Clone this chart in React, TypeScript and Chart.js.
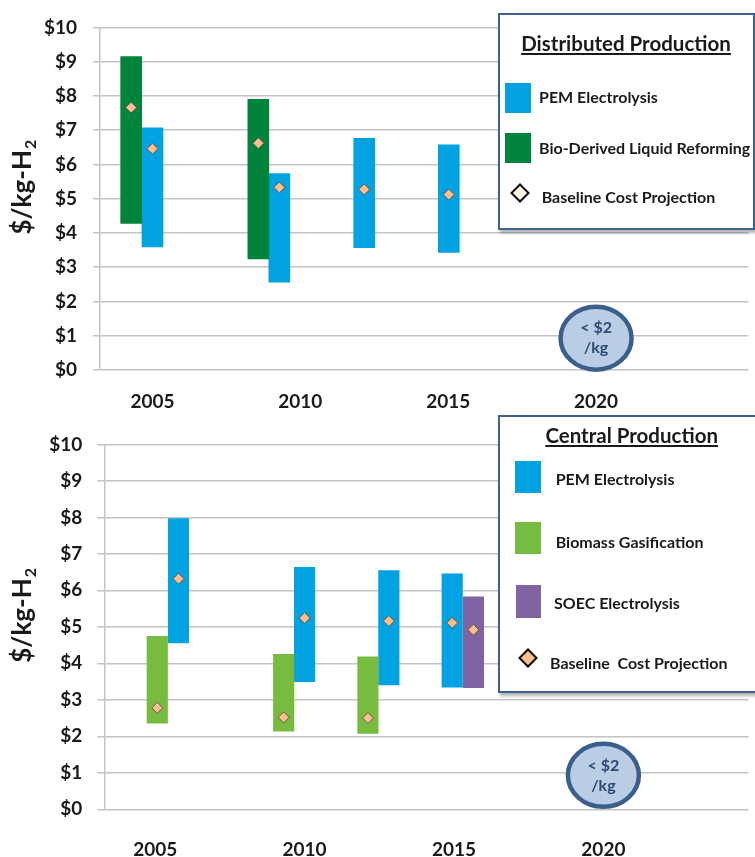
import React, { useEffect, useRef } from "react";
import { Chart, registerables } from "chart.js";

Chart.register(...registerables);

// ---------- data ----------
const yTickValues = [0, 1, 2, 3, 4, 5, 6, 7, 8, 9, 10];
const xTickYears = [2005, 2010, 2015, 2020];

// Distributed production
const distPemX = [2005.0, 2009.29, 2012.16, 2015.02];
const distPemLow = [3.59, 2.56, 3.57, 3.43];
const distPemHigh = [7.07, 5.73, 6.76, 6.57];
const distPemBase = [6.46, 5.33, 5.27, 5.12];

const distBioX = [2004.28, 2008.58];
const distBioLow = [4.28, 3.24];
const distBioHigh = [9.15, 7.9];
const distBioBase = [7.66, 6.62];

// Central production
const centPemX = [2005.78, 2010.0, 2012.82, 2014.94];
const centPemLow = [4.56, 3.5, 3.41, 3.35];
const centPemHigh = [7.97, 6.63, 6.54, 6.45];
const centPemBase = [6.32, 5.24, 5.16, 5.11];

const centBioX = [2005.07, 2009.3, 2012.12];
const centBioLow = [2.36, 2.14, 2.08];
const centBioHigh = [4.74, 4.25, 4.18];
const centBioBase = [2.78, 2.52, 2.5];

const centSoecX = [2015.65];
const centSoecLow = [3.33];
const centSoecHigh = [5.82];
const centSoecBase = [4.92];

// Target annotation
const targetYear = 2020;
const targetValue = 0.93;
const targetLines = ["< $2", "/kg"];

// ---------- styles ----------
const BLUE = "#00a2e2";
const DARK_GREEN = "#00843c";
const LIGHT_GREEN = "#77bc40";
const PURPLE = "#8063a1";
const PEACH = "#fac08f";
const GRID = "#c4c4c4";
const TEXT = "#1a1a1a";
const FONT = "Lato, 'Open Sans', sans-serif";

Chart.defaults.font.family = FONT;

function bars(xs: number[], lo: number[], hi: number[]) {
  return xs.map((x, i) => ({ x, y: [lo[i], hi[i]] }));
}
function pts(xs: number[], ys: number[]) {
  return xs.map((x, i) => ({ x, y: ys[i] }));
}

type Panel = {
  barSets: { data: any[]; color: string }[];
  base: { x: number; y: number }[];
  xMin: number;
  xMax: number;
  leftW: number;
  bottomH: number;
  topPad: number;
  barW: number;
  yPad: number;
  xPad: number;
};

function makeConfig(p: Panel): any {
  const datasets: any[] = [
    {
      type: "scatter",
      data: p.base,
      pointStyle: "rectRot",
      radius: 5.5,
      backgroundColor: PEACH,
      borderColor: "#6b5444",
      borderWidth: 1,
      order: 0,
    },
    ...p.barSets.map((b) => ({
      type: "bar",
      data: b.data,
      backgroundColor: b.color,
      borderWidth: 0,
      barThickness: p.barW,
      grouped: false,
      order: 1,
    })),
  ];
  const decor = {
    id: "decor",
    afterDatasetsDraw(chart: any) {
      const ctx = chart.ctx;
      const xs = chart.scales.x;
      const ys = chart.scales.y;
      // target circle
      const cx = xs.getPixelForValue(targetYear);
      const cy = ys.getPixelForValue(targetValue);
      ctx.save();
      ctx.beginPath();
      ctx.ellipse(cx, cy, 35.5, 31.5, 0, 0, Math.PI * 2);
      ctx.fillStyle = "#b9cde5";
      ctx.fill();
      ctx.lineWidth = 4.5;
      ctx.strokeStyle = "#3a5f8b";
      ctx.stroke();
      ctx.fillStyle = "#2c4a75";
      ctx.font = `bold 16px ${FONT}`;
      ctx.textAlign = "center";
      ctx.textBaseline = "middle";
      ctx.fillText(targetLines[0], cx, cy - 10);
      ctx.fillText(targetLines[1], cx, cy + 10);
      ctx.restore();
      // y-axis title with subscript
      const area = chart.chartArea;
      const midY = (area.top + area.bottom) / 2 - 11;
      ctx.save();
      ctx.translate(23, midY);
      ctx.rotate(-Math.PI / 2);
      ctx.fillStyle = TEXT;
      ctx.textBaseline = "middle";
      ctx.font = `bold 26px ${FONT}`;
      const main = "$/kg-H";
      const mw = ctx.measureText(main).width;
      ctx.font = `bold 16px ${FONT}`;
      const sw = ctx.measureText("2").width;
      const total = mw + sw;
      ctx.font = `bold 26px ${FONT}`;
      ctx.textAlign = "left";
      ctx.fillText(main, -total / 2, 0);
      ctx.font = `bold 16px ${FONT}`;
      ctx.fillText("2", -total / 2 + mw + 1, 8);
      ctx.restore();
    },
  };
  return {
    type: "bar",
    data: { datasets },
    options: {
      animation: false,
      responsive: false,
      maintainAspectRatio: false,
      layout: { padding: { top: p.topPad, left: 0, right: 0, bottom: 0 } },
      plugins: { legend: { display: false }, tooltip: { enabled: false } },
      scales: {
        x: {
          type: "linear",
          min: p.xMin,
          max: p.xMax,
          offset: false,
          grid: { display: false, drawTicks: false, offset: false },
          border: { display: false },
          afterBuildTicks: (s: any) => {
            s.ticks = xTickYears.map((v) => ({ value: v }));
          },
          afterFit: (s: any) => {
            s.height = p.bottomH;
          },
          ticks: {
            padding: p.xPad,
            color: TEXT,
            font: { size: 19, weight: "bold" },
            callback: (v: any) => String(v),
          },
        },
        y: {
          type: "linear",
          min: 0,
          max: 10,
          afterBuildTicks: (s: any) => {
            s.ticks = yTickValues.map((v) => ({ value: v }));
          },
          afterFit: (s: any) => {
            s.width = p.leftW;
          },
          grid: { color: GRID, lineWidth: 1.5, tickLength: 7, drawTicks: true },
          border: { display: true, color: GRID, width: 1.5 },
          ticks: {
            padding: p.yPad,
            color: TEXT,
            font: { size: 19, weight: "bold" },
            callback: (v: any) => "$" + v,
          },
        },
      },
    },
    plugins: [decor],
  };
}

const topPanel: Panel = {
  barSets: [
    { data: bars(distBioX, distBioLow, distBioHigh), color: DARK_GREEN },
    { data: bars(distPemX, distPemLow, distPemHigh), color: BLUE },
  ],
  base: [...pts(distBioX, distBioBase), ...pts(distPemX, distPemBase)],
  xMin: 2003.226,
  xMax: 2025.154,
  leftW: 100,
  bottomH: 48,
  topPad: 25,
  barW: 21,
  yPad: 16,
  xPad: 20,
};

const bottomPanel: Panel = {
  barSets: [
    { data: bars(centBioX, centBioLow, centBioHigh), color: LIGHT_GREEN },
    { data: bars(centPemX, centPemLow, centPemHigh), color: BLUE },
    { data: bars(centSoecX, centSoecLow, centSoecHigh), color: PURPLE },
  ],
  base: [
    ...pts(centBioX, centBioBase),
    ...pts(centPemX, centPemBase),
    ...pts(centSoecX, centSoecBase),
  ],
  xMin: 2003.297,
  xMax: 2024.857,
  leftW: 104.3,
  bottomH: 47.7,
  topPad: 20.3,
  barW: 20.5,
  yPad: 15,
  xPad: 29,
};

const txt = (
  label: string,
  left: number,
  cy: number,
  size: number
): React.ReactElement => (
  <div
    style={{
      position: "absolute",
      left,
      top: cy - 12,
      height: 24,
      lineHeight: "24px",
      fontFamily: FONT,
      fontWeight: 700,
      fontSize: size,
      color: TEXT,
      whiteSpace: "pre",
    }}
  >
    {label}
  </div>
);

const sq = (left: number, top: number, w: number, h: number, color: string) => (
  <div style={{ position: "absolute", left, top, width: w, height: h, background: color }} />
);

const diamond = (cx: number, cy: number, fill: string) => (
  <div
    style={{
      position: "absolute",
      left: cx - 7,
      top: cy - 7,
      width: 10,
      height: 10,
      background: fill,
      border: "2px solid #111",
      transform: "rotate(45deg)",
    }}
  />
);

const boxStyle = (left: number, top: number, w: number, h: number): React.CSSProperties => ({
  position: "absolute",
  left,
  top,
  width: w,
  height: h,
  border: "2px solid #3d6190",
  background: "#fff",
  boxShadow: "2px 3px 3px rgba(0,0,0,0.3)",
  boxSizing: "border-box",
});

const titleStyle = (width: number, top: number): React.CSSProperties => ({
  position: "absolute",
  left: 0,
  width,
  top,
  textAlign: "center",
  fontFamily: FONT,
  fontWeight: 700,
  fontSize: 20.5,
  lineHeight: "26px",
  color: TEXT,
  textDecoration: "underline",
  whiteSpace: "nowrap",
});

export default function App() {
  const topRef = useRef<HTMLCanvasElement>(null);
  const botRef = useRef<HTMLCanvasElement>(null);

  useEffect(() => {
    const c1 = new Chart(topRef.current as HTMLCanvasElement, makeConfig(topPanel));
    const c2 = new Chart(botRef.current as HTMLCanvasElement, makeConfig(bottomPanel));
    return () => {
      c1.destroy();
      c2.destroy();
    };
  }, []);

  return (
    <div
      style={{
        position: "absolute",
        left: 0,
        top: 0,
        width: 755,
        height: 857,
        overflow: "hidden",
        background: "#fff",
      }}
    >
      <canvas ref={topRef} width={755} height={418} style={{ position: "absolute", left: 0, top: 0 }} />
      <canvas ref={botRef} width={755} height={439} style={{ position: "absolute", left: 0, top: 418 }} />

      {/* Distributed legend */}
      <div style={boxStyle(498, 13, 257, 217)}>
        <div style={titleStyle(252, 15)}>Distributed Production</div>
        {sq(5, 68, 26, 30, BLUE)}
        {txt("PEM Electrolysis", 39, 82, 16)}
        {sq(5, 118, 26, 30, DARK_GREEN)}
        {txt("Bio-Derived Liquid Reforming", 39, 133, 16)}
        {diamond(20, 178, "#fff4ea")}
        {txt("Baseline Cost Projection", 41.7, 182, 16)}
      </div>

      {/* Central legend */}
      <div style={boxStyle(498, 415, 290, 278)}>
        <div style={titleStyle(263.4, 5)}>Central Production</div>
        {sq(15, 44, 26, 32, BLUE)}
        {txt("PEM Electrolysis", 55.7, 62, 16)}
        {sq(15, 104.7, 26, 32.6, LIGHT_GREEN)}
        {txt("Biomass Gasification", 55.7, 124.7, 16)}
        {sq(16, 168, 25, 33, PURPLE)}
        {txt("SOEC Electrolysis", 54, 185.7, 16)}
        {diamond(28.3, 241.3, PEACH)}
        {txt("Baseline  Cost Projection", 50, 245.7, 16)}
      </div>
    </div>
  );
}
